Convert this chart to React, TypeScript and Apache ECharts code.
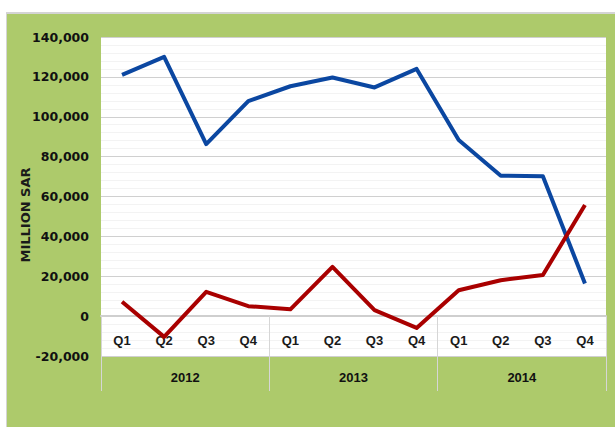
import React, { useEffect, useRef } from "react";
import * as echarts from "echarts";

const quarters = ["Q1", "Q2", "Q3", "Q4", "Q1", "Q2", "Q3", "Q4", "Q1", "Q2", "Q3", "Q4"];
const years = ["2012", "2013", "2014"];
const blueSeries = [121000, 130000, 86300, 107800, 115300, 119700, 114700, 124000, 88300, 70400, 70200, 16400];
const redSeries = [7200, -10400, 12200, 5000, 3400, 24700, 3000, -5900, 13000, 18000, 20600, 55700];
const yMin = -20000;
const yMax = 140000;
const yStep = 20000;
const yAxisTitle = "MILLION SAR";

export default function App() {
  const ref = useRef<HTMLDivElement>(null);
  useEffect(() => {
    if (!ref.current) return;
    const chart = echarts.init(ref.current, undefined, { renderer: "svg" });
    const font = "'Liberation Sans', Arial, sans-serif";
    const gridTop = 37;
    const gridHeight = 319;
    // pixel distance from the grid bottom up to the zero line
    const zeroOffset = Math.round(((0 - yMin) / (yMax - yMin)) * gridHeight);
    chart.setOption({
      animation: false,
      backgroundColor: "#ffffff",
      graphic: [
        { type: "rect", z: -10, shape: { x: 6, y: 12, width: 609, height: 415 }, style: { fill: "#d4d4d4" } },
        { type: "rect", z: -9, shape: { x: 7, y: 14, width: 608, height: 413 }, style: { fill: "#adca6b" } },
        {
          type: "text",
          x: 25,
          y: 215,
          rotation: Math.PI / 2,
          z: 10,
          style: {
            text: yAxisTitle,
            fontFamily: "'DejaVu Sans', sans-serif",
            fontSize: 13,
            fontWeight: "bold",
            fill: "#1a1a1a",
            align: "center",
            verticalAlign: "middle",
          },
        },
      ],
      grid: {
        left: 101,
        top: gridTop,
        width: 505,
        height: gridHeight,
        show: true,
        backgroundColor: "#ffffff",
        borderWidth: 0,
        containLabel: false,
      },
      xAxis: [
        {
          type: "category",
          data: quarters,
          position: "bottom",
          offset: -zeroOffset,
          boundaryGap: true,
          axisLine: { show: true, onZero: false, lineStyle: { color: "#cfcfcf", width: 2 } },
          axisTick: { show: false },
          axisLabel: { margin: 18, fontFamily: font, fontSize: 13, color: "#1a1a1a", fontWeight: 600 },
          splitLine: { show: false },
        },
        {
          type: "category",
          data: years,
          position: "bottom",
          offset: -zeroOffset,
          boundaryGap: true,
          axisLine: { show: false, onZero: false },
          axisTick: { show: true, length: 75, inside: false, lineStyle: { color: "#d6d6d6", width: 1 } },
          axisLabel: { margin: 55, fontFamily: font, fontSize: 13, color: "#111", fontWeight: "bold" },
          splitLine: { show: false },
        },
      ],
      yAxis: {
        type: "value",
        min: yMin,
        max: yMax,
        interval: yStep,
        axisLine: { show: false },
        axisTick: { show: false },
        minorTick: { show: false, splitNumber: 5 },
        minorSplitLine: { show: true, lineStyle: { color: "#f3f3f3", width: 1 } },
        splitLine: { show: true, lineStyle: { color: "#d0d0d0", width: 1 } },
        axisLabel: {
          margin: 12,
          fontFamily: "'DejaVu Sans', sans-serif",
          fontSize: 12.5,
          fontWeight: "bold",
          color: "#111",
          formatter: (v: number) => v.toLocaleString("en-US"),
        },
      },
      series: [
        {
          type: "line",
          data: blueSeries,
          xAxisIndex: 0,
          showSymbol: false,
          symbol: "none",
          lineStyle: { color: "#0b47a1", width: 4, join: "round" },
          z: 3,
        },
        {
          type: "line",
          data: redSeries,
          xAxisIndex: 0,
          showSymbol: false,
          symbol: "none",
          lineStyle: { color: "#a90000", width: 4, join: "round" },
          z: 4,
        },
      ],
    });
    return () => chart.dispose();
  }, []);
  return <div ref={ref} style={{ position: "absolute", left: 0, top: 0, width: 615, height: 427 }} />;
}
